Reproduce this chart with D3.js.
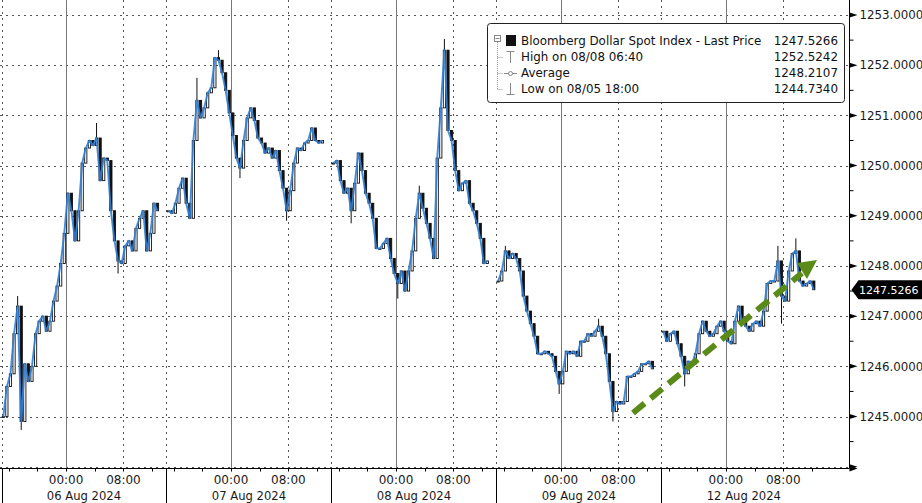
<!DOCTYPE html>
<html><head><meta charset="utf-8">
<script src="https://cdn.jsdelivr.net/npm/d3@7/dist/d3.min.js"></script>
<style>
html,body{margin:0;padding:0;background:#fff;}
svg{display:block;font-family:"DejaVu Sans",sans-serif;}
</style></head>
<body>
<svg id="chart" width="922" height="503"></svg>
<script>
// ---------------- DATA ----------------
const sessionLabels = ["06 Aug 2024","07 Aug 2024","08 Aug 2024","09 Aug 2024","12 Aug 2024"];
// 30-minute closes, each session starting 15:00 of the previous day
const closes06 = [1245.0,1245.6,1245.85,1246.65,1247.2,1244.9,1246.05,1245.7,1246.0,1246.65,1246.9,1247.0,1246.7,1246.9,1247.3,1247.6,1248.05,1248.65,1249.45,1249.1,1248.5,1249.1,1250.05,1250.35,1250.5,1250.4,1250.55,1249.7,1250.15,1250.1,1249.1,1248.5,1248.1,1248.05,1248.4,1248.5,1248.3,1248.75,1248.95,1249.1,1248.3,1248.65,1249.25,1249.1];
const closes07 = [1249.1,1249.05,1249.25,1249.55,1249.75,1249.25,1248.95,1250.5,1251.3,1250.95,1251.15,1251.45,1251.55,1252.15,1252.1,1251.85,1251.5,1251.05,1250.6,1250.15,1249.95,1250.5,1250.95,1251.15,1250.9,1250.55,1250.45,1250.25,1250.35,1250.15,1250.3,1249.9,1249.55,1249.1,1249.5,1250.05,1250.35,1250.3,1250.45,1250.5,1250.75,1250.5,1250.45,1250.5];
const closes08 = [1250.05,1250.1,1249.7,1249.45,1249.55,1249.1,1249.65,1250.25,1249.9,1249.45,1249.25,1248.95,1248.35,1248.35,1248.45,1248.55,1248.15,1247.85,1247.65,1247.9,1247.5,1247.9,1248.3,1248.95,1249.45,1249.15,1248.85,1248.55,1248.15,1250.15,1251.15,1252.3,1250.7,1250.5,1249.9,1249.5,1249.65,1249.7,1249.25,1249.1,1248.85,1248.55,1248.05,1248.1];
const closes09 = [1247.7,1247.9,1248.3,1248.15,1248.25,1248.15,1247.9,1247.4,1247.1,1246.85,1246.6,1246.25,1246.25,1246.3,1246.25,1246.2,1245.9,1245.65,1245.9,1246.3,1246.25,1246.3,1246.2,1246.5,1246.5,1246.65,1246.6,1246.7,1246.8,1246.6,1246.25,1245.7,1245.1,1245.3,1245.25,1245.3,1245.8,1245.8,1245.85,1245.9,1246.05,1246.05,1246.1,1245.95];
const closes12 = [1246.7,1246.5,1246.65,1246.7,1246.45,1246.2,1245.85,1246.1,1246.05,1246.25,1246.65,1246.9,1246.7,1246.6,1246.65,1246.8,1246.9,1246.7,1246.5,1246.45,1246.9,1247.2,1246.9,1246.8,1246.7,1246.85,1246.9,1246.8,1247.1,1247.65,1247.7,1247.7,1248.1,1247.4,1247.3,1247.9,1248.25,1248.3,1247.7,1247.6,1247.65,1247.7,1247.5266];
const sessionCloses = [closes06, closes07, closes08, closes09, closes12];
// notable wicks [session, bar, value]
const wickHighs = [[2,31,1252.5242],[1,14,1252.3],[4,37,1248.55],[4,32,1248.4],[0,26,1250.85],[3,28,1246.95],[0,4,1247.4],[1,8,1251.75],[2,24,1249.6],[3,2,1248.4]];
const wickLows  = [[0,5,1244.734],[3,32,1244.9],[2,18,1247.35],[3,17,1245.45],[4,6,1245.6],[4,33,1246.85],[0,32,1247.85],[1,33,1248.9],[1,20,1249.75],[2,5,1248.85]];
const yTicks = [1244,1245,1246,1247,1248,1249,1250,1251,1252,1253];
const hourLabels = [{h:9,t:"00:00"},{h:17,t:"08:00"}];
const minorHours = [1,5,9,13,17,21];
const legendRows = [
  {label:"Bloomberg Dollar Spot Index - Last Price", value:"1247.5266"},
  {label:"High on 08/08 06:40", value:"1252.5242"},
  {label:"Average", value:"1248.2107"},
  {label:"Low on 08/05 18:00", value:"1244.7340"}
];
const lastPrice = 1247.5266;

// ---------------- SCALES ----------------
const SESSION_H = 23;
const svg = d3.select("#chart");
const axisX = 849.5, axisY = 468.5;
const x = d3.scaleLinear().domain([0, 118.3]).range([1.5, 850]);
const y = d3.scaleLinear().domain([1244, 1253.3]).range([466.7, 0]);

// bars
const bars = [];
sessionCloses.forEach((arr, s) => {
  arr.forEach((c, i) => {
    const o = i === 0 ? c : arr[i-1];
    bars.push({s, i, h: s*SESSION_H + 0.25 + 0.5*i, o, c, hi: Math.max(o,c), lo: Math.min(o,c)});
  });
});
const key = (s,i) => bars.find(b => b.s===s && b.i===i);
wickHighs.forEach(([s,i,v]) => { const b = key(s,i); if (b) b.hi = Math.max(b.hi, v); });
wickLows.forEach(([s,i,v]) => { const b = key(s,i); if (b) b.lo = Math.min(b.lo, v); });

// ---------------- GRID ----------------
const grid = svg.append("g");
yTicks.forEach(v => {
  grid.append("line").attr("x1",0).attr("x2",axisX).attr("y1",Math.round(y(v))+0.5).attr("y2",Math.round(y(v))+0.5)
    .attr("stroke","#555").attr("stroke-width",1).attr("stroke-dasharray","2,4");
});
for (let s = 0; s < 5; s++) {
  const xs = x(s*SESSION_H);
  grid.append("line").attr("x1",Math.round(xs)+0.5).attr("x2",Math.round(xs)+0.5).attr("y1",0).attr("y2",axisY)
    .attr("stroke","#555").attr("stroke-dasharray","2,4");
  const x0 = x(s*SESSION_H + 9);
  grid.append("line").attr("x1",Math.round(x0)+0.5).attr("x2",Math.round(x0)+0.5).attr("y1",0).attr("y2",axisY)
    .attr("stroke","#777").attr("stroke-width",1);
  const x8 = x(s*SESSION_H + 17);
  grid.append("line").attr("x1",Math.round(x8)+0.5).attr("x2",Math.round(x8)+0.5).attr("y1",0).attr("y2",axisY)
    .attr("stroke","#555").attr("stroke-dasharray","2,4");
}

// ---------------- CANDLES ----------------
const bw = (x(0.5) - x(0)) * 0.62;
const cg = svg.append("g");
cg.selectAll("line.wick").data(bars).join("line")
  .attr("x1", d => x(d.h)).attr("x2", d => x(d.h))
  .attr("y1", d => y(d.hi)).attr("y2", d => y(d.lo))
  .attr("stroke","#111").attr("stroke-width",1);
cg.selectAll("rect.body").data(bars).join("rect")
  .attr("x", d => x(d.h) - bw/2)
  .attr("y", d => y(Math.max(d.o,d.c)))
  .attr("width", bw)
  .attr("height", d => Math.max(1, Math.abs(y(d.o) - y(d.c))))
  .attr("fill", d => d.c >= d.o ? "#fff" : "#111")
  .attr("stroke","#111").attr("stroke-width",0.9);

// blue price line per session
const line = d3.line().x(d => x(d.h)).y(d => y(d.c));
for (let s = 0; s < 5; s++) {
  cg.append("path").datum(bars.filter(b => b.s === s)).attr("d", line)
    .attr("fill","none").attr("stroke","#2f80d8").attr("stroke-width",1.9).attr("stroke-linejoin","round").attr("opacity",0.9);
}

// ---------------- AXES ----------------
const ax = svg.append("g").attr("fill","#1a1a1a").attr("font-size","11.8px");
ax.append("line").attr("x1",axisX).attr("x2",axisX).attr("y1",0).attr("y2",axisY).attr("stroke","#000");
ax.append("line").attr("x1",0).attr("x2",axisX).attr("y1",axisY).attr("y2",axisY).attr("stroke","#000");
ax.append("path").attr("d",`M${axisX},${axisY-3}L${axisX+8},${axisY}L${axisX},${axisY+3}Z`).attr("fill","#000");
yTicks.forEach(v => {
  const yy = y(v);
  ax.append("path").attr("d",`M${axisX},${yy-2.5}L${axisX+8},${yy}L${axisX},${yy+2.5}Z`).attr("fill","#000");
  if (v > 1244) ax.append("text").attr("x",axisX+10).attr("y",yy).attr("dy","0.36em").text(d3.format(".4f")(v));
  const ym = y(v + 0.5);
  if (ym > 2) ax.append("line").attr("x1",axisX).attr("x2",axisX+4).attr("y1",ym).attr("y2",ym).attr("stroke","#000");
});
// x ticks and labels
for (let s = 0; s < 5; s++) {
  const xs = Math.round(x(s*SESSION_H)) + 0.5;
  ax.append("line").attr("x1",xs).attr("x2",xs).attr("y1",axisY).attr("y2",503).attr("stroke","#000");
  minorHours.forEach(h => {
    const xx = Math.round(x(s*SESSION_H + h)) + 0.5;
    ax.append("line").attr("x1",xx).attr("x2",xx).attr("y1",axisY).attr("y2",axisY+3).attr("stroke","#000");
  });
  hourLabels.forEach(hl => {
    ax.append("text").attr("x",x(s*SESSION_H + hl.h)).attr("y",484).attr("text-anchor","middle").attr("font-size","12px").text(hl.t);
  });
  ax.append("text").attr("x",x(s*SESSION_H + 11.5)).attr("y",500).attr("text-anchor","middle").attr("font-size","11.6px").text(sessionLabels[s]);
}

// last price tag
const ly = y(lastPrice);
svg.append("path").attr("d",`M${axisX+2},${ly}L${axisX+9},${ly-9.5}L922,${ly-9.5}L922,${ly+9.5}L${axisX+9},${ly+9.5}Z`).attr("fill","#000");
svg.append("text").attr("x",axisX+9.5).attr("y",ly).attr("dy","0.36em").attr("fill","#fff").attr("font-size","11px").text(d3.format(".4f")(lastPrice));

// ---------------- ARROW ----------------
svg.append("line").attr("x1",633).attr("y1",413).attr("x2",802).attr("y2",273)
  .attr("stroke","#5a8a17").attr("stroke-width",6).attr("stroke-dasharray","15,8");
svg.append("path").attr("d","M817,260L797,263L807,279Z").attr("fill","#5a8a17");

// ---------------- LEGEND ----------------
const lg = svg.append("g");
lg.append("rect").attr("x",487.5).attr("y",23.5).attr("width",357).attr("height",79).attr("rx",3)
  .attr("fill","#fff").attr("stroke","#222");
lg.append("rect").attr("x",494.5).attr("y",35.5).attr("width",6).attr("height",6).attr("fill","#fff").attr("stroke","#888");
lg.append("line").attr("x1",495.5).attr("x2",499.5).attr("y1",38.5).attr("y2",38.5).attr("stroke","#888");
lg.append("line").attr("x1",497.5).attr("x2",497.5).attr("y1",42).attr("y2",89.5).attr("stroke","#999").attr("stroke-dasharray","1,1");
[57,73,89].forEach(yy => lg.append("line").attr("x1",497.5).attr("x2",503).attr("y1",yy+0.5).attr("y2",yy+0.5).attr("stroke","#999").attr("stroke-dasharray","1,1"));
lg.append("rect").attr("x",506).attr("y",35).attr("width",10).attr("height",11).attr("fill","#111");
lg.append("path").attr("d","M506.5,51.5H514.5M510.5,51.5V63").attr("stroke","#888").attr("fill","none");
lg.append("path").attr("d","M504,73.5H517").attr("stroke","#888");
lg.append("circle").attr("cx",510.5).attr("cy",73.5).attr("r",2).attr("fill","#fff").attr("stroke","#888");
lg.append("path").attr("d","M510.5,83V94.5M506.5,94.5H514.5").attr("stroke","#888").attr("fill","none");
legendRows.forEach((r, k) => {
  const by = 45 + 16*k;
  lg.append("text").attr("x",521).attr("y",by).attr("font-size","11.9px").attr("fill","#111").text(r.label);
  lg.append("text").attr("x",838).attr("y",by).attr("font-size","11.9px").attr("text-anchor","end").attr("fill","#111").text(r.value);
});
</script>
</body></html>
